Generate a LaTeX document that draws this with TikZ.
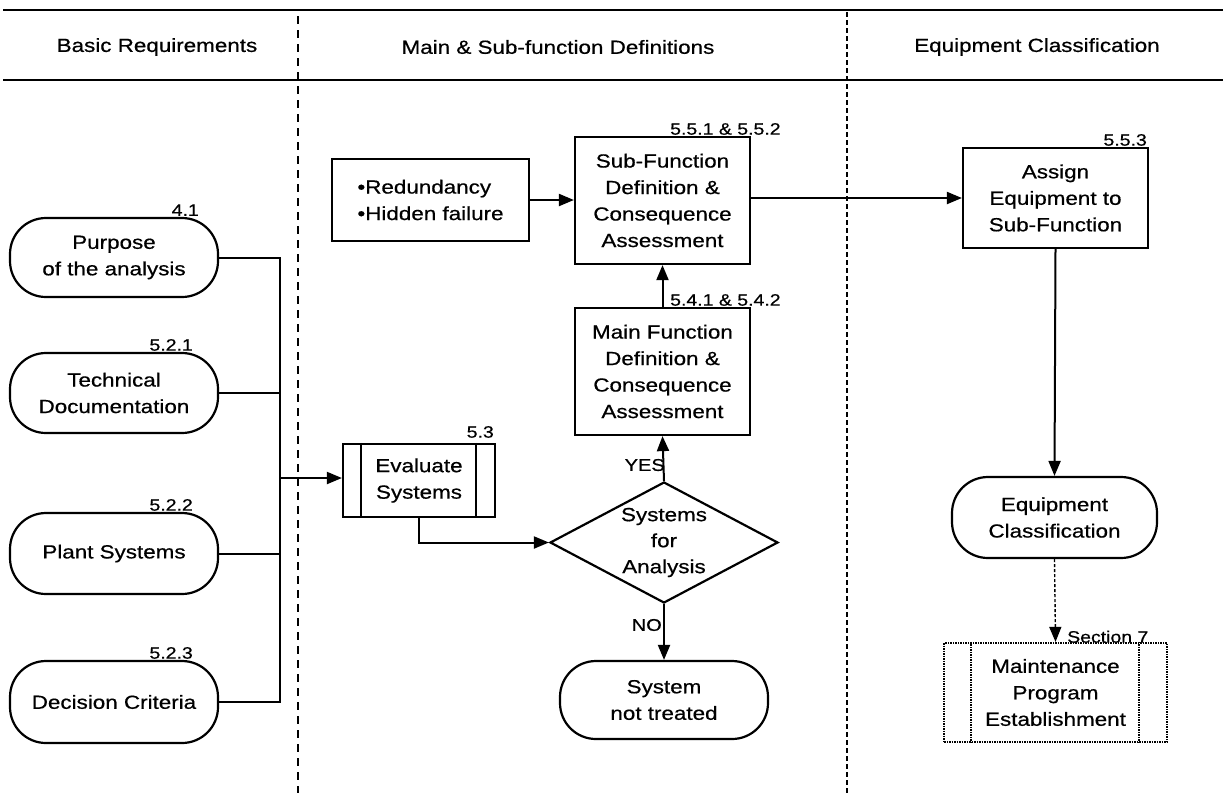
\documentclass[tikz,border=0pt]{standalone}
\usepackage{fontspec}
\setmainfont[FakeStretch=1.18,FakeBold=0.6]{Liberation Sans}
\usetikzlibrary{shapes.geometric,arrows.meta}

\begin{document}
\begin{tikzpicture}[x=1pt,y=-1pt,
  every node/.style={font=\fontsize{19}{26.5}\selectfont, align=center, inner sep=0pt},
  box/.style={draw, line width=2.2pt, rectangle},
  term/.style={draw, line width=2.2pt, rectangle, rounded corners=36pt},
  sub/.style={box},
  ref/.style={font=\fontsize{16.5}{19}\selectfont},
  link/.style={line width=2pt},
  flow/.style={line width=2pt, -{Triangle[length=15pt,width=12pt]}},
  lanea/.style={line width=1.3pt, dash pattern=on 8pt off 6pt},
  laneb/.style={line width=1.7pt, dash pattern=on 5pt off 3pt},
  dotbox/.style={draw, line width=2.2pt, dash pattern=on 1.5pt off 1pt},
]
\useasboundingbox (0,0) rectangle (1223,793);

% header band and lane separators
\draw[line width=2.2pt] (3,10) coordinate (hl1) -- (1223,10) coordinate (hr1);
\draw[line width=2.2pt] (3,80) coordinate (hl2) -- (1223,80) coordinate (hr2);
\draw[lanea] (298,16) coordinate (la) -- (298,793) coordinate (lb);
\draw[laneb] (847,12) coordinate (lc) -- (847,793) coordinate (ld);

\node (h1) at (157,47) {Basic Requirements};
\node (h2) at (558,47) {Main \& Sub-function Definitions};
\node (h3) at (1037,47) {Equipment Classification};

% basic requirements
\node[term, minimum width=208pt, minimum height=79pt] (purpose) at (114,257.5) {Purpose\\of the analysis};
\node[term, minimum width=208pt, minimum height=80pt] (techdoc) at (114,393) {Technical\\Documentation};
\node[term, minimum width=208pt, minimum height=81pt] (plant) at (114,553.5) {Plant Systems};
\node[term, minimum width=208pt, minimum height=82pt] (crit) at (114,702) {Decision Criteria};

\node[ref, anchor=south east] (r41) at (199,216) {4.1};
\node[ref, anchor=south east] (r521) at (193,351) {5.2.1};
\node[ref, anchor=south east] (r522) at (193,511) {5.2.2};
\node[ref, anchor=south east] (r523) at (193,659) {5.2.3};

% collecting bus
\coordinate (bustop) at (280,257.5);
\coordinate (busbot) at (280,702);
\coordinate (busmid) at (280,478);
\draw[link] (purpose.east) -- (bustop) -- (busbot) -- (crit.east);
\draw[link] (techdoc.east) -- (techdoc.east -| bustop);
\draw[link] (plant.east) -- (plant.east -| bustop);

% main and sub-function definitions
\node[sub, minimum width=152pt, minimum height=73pt] (eval) at (419,480.5) {Evaluate\\Systems};
\draw[line width=2.2pt] ([xshift=19pt]eval.north west) -- ([xshift=19pt]eval.south west);
\draw[line width=2.2pt] ([xshift=-20pt]eval.north east) -- ([xshift=-20pt]eval.south east);
\node[ref, anchor=south east] (r53) at (494,438) {5.3};
\draw[flow] (busmid) -- (busmid -| eval.west);

\node[draw, line width=2.2pt, diamond, aspect=1.88, minimum width=228pt, minimum height=121pt, inner sep=-6pt,
      font=\fontsize{19}{26}\selectfont] (dec) at (664,542.5) {Systems\\for\\Analysis};
\draw[flow] (eval.south) |- (dec.west);

\node[box, minimum width=175pt, minimum height=127pt] (mainf) at (662.5,371.5) {Main Function\\Definition \&\\Consequence\\Assessment};
\node[box, minimum width=175pt, minimum height=127pt] (subf) at (662.5,200.5) {Sub-Function\\Definition \&\\Consequence\\Assessment};
\node[ref, anchor=south west] (r54) at (670,306) {5.4.1 \& 5.4.2};
\node[ref, anchor=south west] (r55) at (670,135) {5.5.1 \& 5.5.2};

\node[box, minimum width=197pt, minimum height=82pt, align=left] (extra) at (430.5,200) {•Redundancy\\•Hidden failure};

\node[term, minimum width=208pt, minimum height=78pt] (nottreat) at (664,700) {System\\not treated};

\draw[flow] (dec.north) -- (mainf.south);
\draw[flow] (mainf.north) -- (subf.south);
\draw[flow] (extra.east) -- (subf.west |- extra.east);
\draw[flow] (dec.south) -- (nottreat.north);
\node[ref, font=\fontsize{17}{19}\selectfont, anchor=east] (yes) at (665,465) {YES};
\node[ref, font=\fontsize{17}{19}\selectfont, anchor=east] (no) at (662,625) {NO};

% equipment classification
\node[box, minimum width=185pt, minimum height=100pt] (assign) at (1055.5,198) {Assign\\Equipment to\\Sub-Function};
\node[ref, anchor=south east] (r553) at (1147,146) {5.5.3};
\node[term, minimum width=205pt, minimum height=81pt] (eqc) at (1054.5,517.5) {Equipment\\Classification};
\node[dotbox, minimum width=223pt, minimum height=99pt] (maint) at (1055.5,692.5) {Maintenance\\Program\\Establishment};
\draw[line width=2.2pt, dash pattern=on 1.5pt off 1pt] ([xshift=28pt]maint.north west) -- ([xshift=28pt]maint.south west);
\draw[line width=2.2pt, dash pattern=on 1.5pt off 1pt] ([xshift=-29pt]maint.north east) -- ([xshift=-29pt]maint.south east);
\node[ref, anchor=south west] (r7) at (1067,643) {Section 7};

\draw[flow] (subf.east |- assign.west) -- (assign.west);
\draw[flow] (assign.south) -- (eqc.north);
\draw[line width=1.4pt, dash pattern=on 3pt off 2pt, -{Triangle[length=15pt,width=12pt]}] (eqc.south) -- (maint.north);
\end{tikzpicture}
\end{document}
